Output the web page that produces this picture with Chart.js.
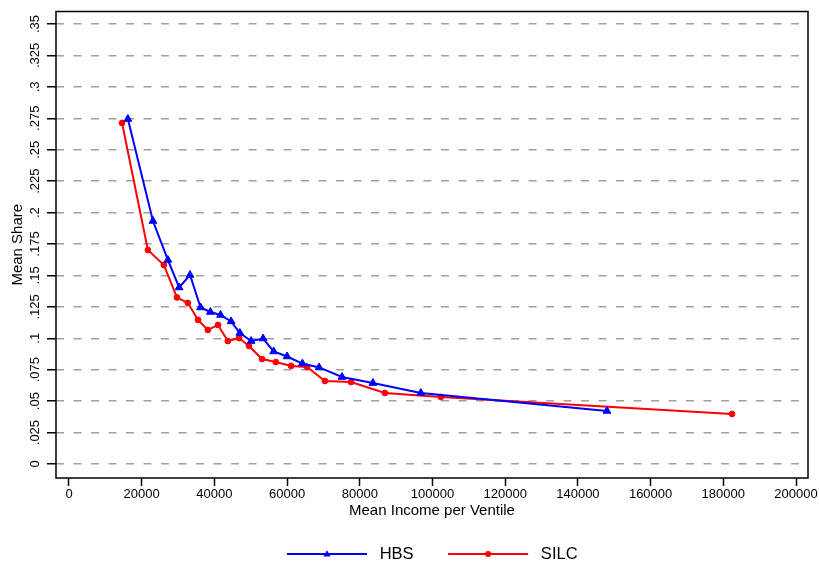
<!DOCTYPE html>
<html><head><meta charset="utf-8">
<script src="https://cdn.jsdelivr.net/npm/chart.js"></script>
<style>html,body{margin:0;padding:0;background:#fff}canvas{display:block}</style>
</head><body>
<canvas id="c" width="819" height="565"></canvas>
<script>
// ---- data ----
const seriesNames = ['HBS', 'SILC'];
const hbsIncome = [16200, 23100, 27200, 30300, 33300, 36200, 38900, 41700, 44600, 47000, 50100, 53400, 56300, 60000, 64200, 68800, 75100, 83600, 96800, 148000];
const hbsShare  = [0.2744, 0.1933, 0.1623, 0.1404, 0.1503, 0.1245, 0.1209, 0.1185, 0.1134, 0.1042, 0.0978, 0.0998, 0.0895, 0.0855, 0.0799, 0.0768, 0.0692, 0.0644, 0.0565, 0.0422];
const silcIncome = [14600, 21700, 26100, 29700, 32700, 35500, 38200, 41000, 43700, 46800, 49500, 53100, 56900, 61100, 65500, 70400, 77600, 86900, 102300, 182400];
const silcShare  = [0.2713, 0.1702, 0.1583, 0.1325, 0.1281, 0.1146, 0.1066, 0.1106, 0.0978, 0.1002, 0.0939, 0.0835, 0.0811, 0.0780, 0.0772, 0.0660, 0.0652, 0.0565, 0.0533, 0.0398];
const yTickValues = [0, 0.025, 0.05, 0.075, 0.1, 0.125, 0.15, 0.175, 0.2, 0.225, 0.25, 0.275, 0.3, 0.325, 0.35];
const yTickLabels = ['0', '.025', '.05', '.075', '.1', '.125', '.15', '.175', '.2', '.225', '.25', '.275', '.3', '.325', '.35'];
const xTickValues = [0, 20000, 40000, 60000, 80000, 100000, 120000, 140000, 160000, 180000, 200000];
const xTickLabels = ['0', '20000', '40000', '60000', '80000', '100000', '120000', '140000', '160000', '180000', '200000'];
const xTitle = 'Mean Income per Ventile';
const yTitle = 'Mean Share';

const FONT = '"Liberation Sans", Arial, Helvetica, sans-serif';
const BLUE = '#0000ff', RED = '#ff0000';

function legendGlyph(color, style) {
  const c = document.createElement('canvas');
  c.width = 108; c.height = 12;
  const g = c.getContext('2d');
  g.strokeStyle = color; g.lineWidth = 2;
  g.beginPath(); g.moveTo(24, 6); g.lineTo(104, 6); g.stroke();
  g.fillStyle = color;
  g.beginPath();
  if (style === 'triangle') { g.moveTo(64, 2.2); g.lineTo(67.6, 8.4); g.lineTo(60.4, 8.4); g.closePath(); }
  else { g.arc(64, 6, 3, 0, Math.PI * 2); }
  g.fill();
  return c;
}
const legendGlyphs = [legendGlyph(BLUE, 'triangle'), legendGlyph(RED, 'circle')];

const framePlugin = {
  id: 'frame',
  beforeDatasetsDraw(chart) {
    const { ctx, chartArea: a } = chart;
    ctx.save();
    ctx.strokeStyle = '#000'; ctx.lineWidth = 1.5;
    ctx.strokeRect(a.left, a.top, a.right - a.left, a.bottom - a.top);
    ctx.restore();
  }
};
const legendShift = {
  id: 'legendShift',
  afterLayout(chart) {
    const l = chart.legend; if (!l) return;
    l.left += 16; l.right += 16; l.top += 12.75; l.bottom += 12.75;
  }
};

new Chart(document.getElementById('c'), {
  type: 'scatter',
  data: {
    datasets: [
      { label: seriesNames[0], data: hbsIncome.map((x, i) => ({ x, y: hbsShare[i] })),
        showLine: true, borderColor: BLUE, backgroundColor: BLUE, borderWidth: 2,
        pointStyle: 'triangle', pointRadius: 4.5, pointBorderWidth: 1, pointBackgroundColor: BLUE, pointBorderColor: BLUE },
      { label: seriesNames[1], data: silcIncome.map((x, i) => ({ x, y: silcShare[i] })),
        showLine: true, borderColor: RED, backgroundColor: RED, borderWidth: 2,
        pointStyle: 'circle', pointRadius: 2.9, pointBorderWidth: 1, pointBackgroundColor: RED, pointBorderColor: RED }
    ]
  },
  options: {
    responsive: false, animation: false, events: [],
    devicePixelRatio: 1,
    layout: { padding: { top: 11.5, right: 11, bottom: 5.5, left: 0 } },
    plugins: {
      tooltip: { enabled: false },
      legend: {
        position: 'bottom',
        labels: {
          usePointStyle: true, pointStyleWidth: 109, padding: 10,
          color: '#000', font: { family: FONT, size: 16.5 },
          generateLabels: (chart) => seriesNames.map((n, i) => ({
            text: n, pointStyle: legendGlyphs[i], datasetIndex: i, lineWidth: 0,
            fillStyle: 'transparent', strokeStyle: 'transparent', fontColor: '#000', hidden: false
          }))
        }
      }
    },
    scales: {
      x: {
        type: 'linear', min: -3576, max: 203301,
        afterBuildTicks: s => { s.ticks = xTickValues.map(v => ({ value: v })); },
        afterFit: s => { s.height = 45; s.paddingLeft = 0; s.paddingRight = 0; },
        grid: { drawOnChartArea: false, drawTicks: true, tickLength: 8, tickColor: '#000', tickWidth: 1.5 },
        border: { display: false },
        ticks: { autoSkip: false, minRotation: 0, maxRotation: 0, padding: 1, color: '#000',
          font: { family: FONT, size: 13 }, callback: (v, i) => xTickLabels[i] },
        title: { display: true, text: xTitle, color: '#000', font: { family: FONT, size: 15 }, padding: { top: 0, bottom: 3 } }
      },
      y: {
        type: 'linear', min: -0.01114, max: 0.35994,
        afterBuildTicks: s => { s.ticks = yTickValues.map(v => ({ value: v })); },
        afterFit: s => { s.width = 56; s.paddingTop = 0; s.paddingBottom = 0; },
        grid: { drawOnChartArea: true, color: '#a0a0a0', lineWidth: 1.5, borderDash: [8, 9.5],
          drawTicks: true, tickLength: 9, tickColor: '#000', tickWidth: 1.5, tickBorderDash: [] },
        border: { display: false, dash: [8, 9.5] },
        ticks: { autoSkip: false, minRotation: 90, maxRotation: 90, crossAlign: 'center', padding: -1.5, color: '#000',
          font: { family: FONT, size: 13 }, callback: (v, i) => yTickLabels[i] },
        title: { display: true, text: yTitle, color: '#000', font: { family: FONT, size: 15 }, padding: { top: 9, bottom: 0 } }
      }
    }
  },
  plugins: [framePlugin, legendShift]
});
</script>
</body></html>
